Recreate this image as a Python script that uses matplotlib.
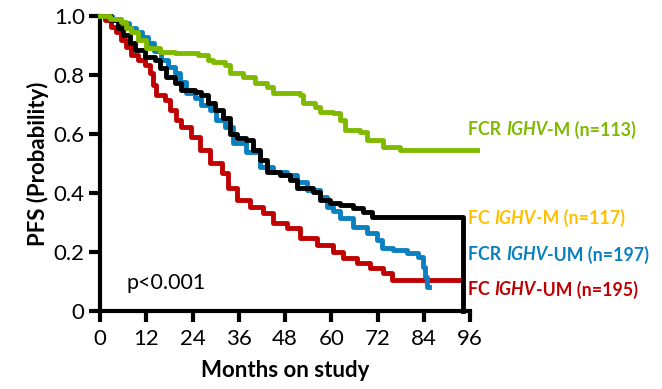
import matplotlib
matplotlib.use("Agg")
import matplotlib.pyplot as plt

# ---- data (months, PFS probability) ----
green_t = [0, 2.5, 5.4, 6.7, 8, 9.8, 12, 15.5, 19.5, 25.4, 28, 29.3, 32.4, 33.7, 37.1, 40.2, 43.3,
           44.9, 51.9, 52.7, 55.8, 57.1, 60.5, 62.3, 63.6, 67.5, 69.3, 73.4, 77.8, 97.8]
green_s = [1.0, 0.99, 0.98, 0.96, 0.946, 0.92, 0.89, 0.878, 0.875, 0.868, 0.85, 0.844, 0.834, 0.807,
           0.793, 0.773, 0.759, 0.739, 0.732, 0.705, 0.692, 0.675, 0.671, 0.647, 0.614, 0.607, 0.58,
           0.556, 0.546, 0.546]

black_t = [0, 2.9, 4.7, 6, 7.8, 9, 11.7, 14.3, 15.6, 17.1, 19.5, 21, 24.6, 26.2, 28, 29.8, 31.9,
           33.7, 35.5, 38, 39.7, 41.5, 43.3, 46.7, 49.3, 51, 55.3, 57, 59.7, 62.3, 65.6, 68.2, 70.6, 94.2]
black_s = [1.0, 0.986, 0.96, 0.935, 0.91, 0.885, 0.86, 0.85, 0.824, 0.793, 0.773, 0.749, 0.742,
           0.732, 0.705, 0.681, 0.654, 0.6, 0.586, 0.58, 0.546, 0.512, 0.471, 0.461, 0.444, 0.417,
           0.403, 0.376, 0.366, 0.359, 0.349, 0.336, 0.319, 0.0]

blue_t = [0, 3, 5.5, 7.5, 9.3, 11, 12.5, 14, 15.8, 17.6, 19.5, 20.8, 22.3, 24.6, 26.2, 28.5, 30.1,
          32.4, 34.5, 38, 41.5, 45, 48.5, 51, 53.7, 57, 58.9, 60.5, 62.3, 65.6, 69.3, 71.9, 73.2,
          76, 79.6, 82.5, 83.8, 84.3, 84.8, 85.3]
blue_s = [1.0, 0.99, 0.975, 0.96, 0.946, 0.93, 0.908, 0.88, 0.85, 0.827, 0.807, 0.776, 0.739, 0.722,
          0.698, 0.681, 0.647, 0.624, 0.569, 0.539, 0.488, 0.471, 0.461, 0.437, 0.41, 0.386, 0.353,
          0.34, 0.315, 0.285, 0.264, 0.241, 0.214, 0.207, 0.197, 0.183, 0.149, 0.115, 0.08, 0.08]

red_t = [0, 1.3, 2.9, 4.2, 5.4, 6.7, 8, 9.9, 11.7, 13, 13.8, 14.5, 16.9, 18.2, 19.7, 21, 23.6, 26,
         28.5, 31.7, 33.2, 35.5, 38.9, 42.3, 45, 48.5, 51.9, 56.3, 60.5, 63, 66.7, 70, 73.4, 75.8, 93.4]
red_s = [1.0, 0.986, 0.963, 0.946, 0.92, 0.895, 0.868, 0.85, 0.834, 0.807, 0.766, 0.732, 0.715,
         0.681, 0.647, 0.624, 0.59, 0.546, 0.502, 0.468, 0.417, 0.376, 0.353, 0.332, 0.298, 0.281,
         0.247, 0.224, 0.2, 0.18, 0.163, 0.146, 0.129, 0.105, 0.105]

x_ticks = [0, 12, 24, 36, 48, 60, 72, 84, 96]
y_ticks = [0, 0.2, 0.4, 0.6, 0.8, 1.0]
y_labels = ["0", "0.2", "0.4", "0.6", "0.8", "1.0"]

GREEN = "#7FBA00"
BLUE = "#0A80C0"
RED = "#C00000"
ORANGE = "#FFC000"

plt.rcParams['font.family'] = ['Lato', 'DejaVu Sans']

fig = plt.figure(figsize=(6.62, 3.89), dpi=100)
ax = fig.add_axes([100/662, 1-311/389, 370/662, 295/389])

lw = 3.5
ax.step(red_t, red_s, where='post', color=RED, lw=lw, clip_on=False, zorder=3)
ax.step(blue_t, blue_s, where='post', color=BLUE, lw=lw, clip_on=False, zorder=4)
ax.step(black_t, black_s, where='post', color='black', lw=lw, clip_on=False, zorder=5)
ax.step(green_t, green_s, where='post', color=GREEN, lw=lw, clip_on=False, zorder=6)

ax.set_xlim(0, 96)
ax.set_ylim(0, 1.0)
ax.set_xticks(x_ticks)
ax.set_xticklabels([str(v) for v in x_ticks])
ax.set_yticks(y_ticks)
ax.set_yticklabels(y_labels)

for s in ['top', 'right']:
    ax.spines[s].set_visible(False)
for s in ['left', 'bottom']:
    ax.spines[s].set_linewidth(3)
    ax.spines[s].set_capstyle('projecting')
ax.tick_params(axis='both', length=8, width=3, labelsize=16, colors='black')
ax.tick_params(axis='x', pad=5)
ax.tick_params(axis='y', pad=3)

ax.set_xlabel("Months on study", fontsize=16, fontweight='bold', labelpad=8)
ax.set_ylabel("PFS (Probability)", fontsize=16, fontweight='bold', labelpad=3)

ax.text(6.8, 0.095, "p<0.001", fontsize=15.5, va='center', ha='left')

def lab(y, parts, color):
    x = 95.6
    renderer = fig.canvas.get_renderer()
    inv = ax.transData.inverted()
    for txt, it in parts:
        tt = ax.text(x, y, txt, fontsize=12.8, fontweight='bold', color=color,
                     style='italic' if it else 'normal', va='center', ha='left', clip_on=False)
        bb = tt.get_window_extent(renderer=renderer)
        x = inv.transform((bb.x1, bb.y0))[0]

lab(0.614, [("FCR ", False), ("IGHV", True), ("-M (n=113)", False)], GREEN)
lab(0.315, [("FC ", False), ("IGHV", True), ("-M (n=117)", False)], ORANGE)
lab(0.19, [("FCR ", False), ("IGHV", True), ("-UM (n=197)", False)], BLUE)
lab(0.072, [("FC ", False), ("IGHV", True), ("-UM (n=195)", False)], RED)

fig.savefig("out.png", dpi=100)
